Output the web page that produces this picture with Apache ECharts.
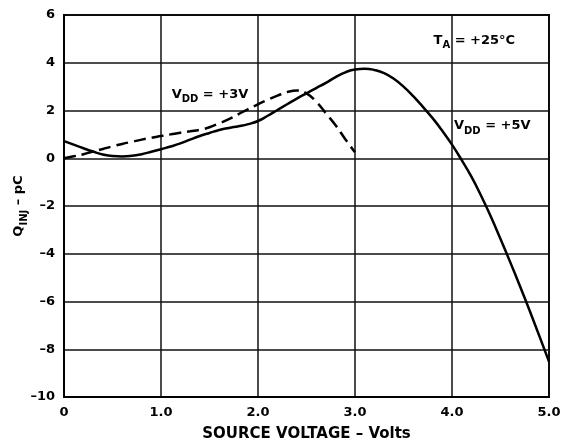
<!DOCTYPE html>
<html><head><meta charset="utf-8">
<script src="https://cdn.jsdelivr.net/npm/echarts@6/dist/echarts.min.js"></script>
<style>html,body{margin:0;padding:0;background:#fff}#c{width:568px;height:442px}</style>
</head><body><div id="c"></div>
<script>
// Source voltage (V), step 0.1, and charge injection (pC), VDD = +5V (solid)
const srcV5 = [0,0.1,0.2,0.3,0.4,0.5,0.6,0.7,0.8,0.9,1.0,1.1,1.2,1.3,1.4,1.5,1.6,1.7,1.8,1.9,2.0,2.1,2.2,2.3,2.4,2.5,2.6,2.7,2.8,2.9,3.0,3.1,3.2,3.3,3.4,3.5,3.6,3.7,3.8,3.9,4.0,4.1,4.2,4.3,4.4,4.5,4.6,4.7,4.8,4.9,5.0];
const qinj5  = [0.72,0.57,0.42,0.28,0.16,0.09,0.07,0.1,0.17,0.27,0.38,0.49,0.62,0.78,0.93,1.06,1.18,1.27,1.34,1.43,1.56,1.78,2.02,2.26,2.5,2.72,2.94,3.16,3.4,3.6,3.72,3.75,3.7,3.57,3.33,3.0,2.6,2.15,1.68,1.15,0.57,-0.08,-0.77,-1.57,-2.44,-3.38,-4.35,-5.35,-6.38,-7.44,-8.52];
// VDD = +3V (dashed)
const srcV3 = [0,0.1,0.2,0.3,0.4,0.5,0.6,0.7,0.8,0.9,1.0,1.1,1.2,1.3,1.4,1.5,1.6,1.7,1.8,1.9,2.0,2.1,2.2,2.3,2.4,2.5,2.6,2.7,2.8,2.9,3.0];
const qinj3  = [0,0.08,0.17,0.28,0.39,0.5,0.6,0.69,0.78,0.86,0.93,1.0,1.07,1.13,1.19,1.3,1.46,1.64,1.85,2.06,2.26,2.45,2.62,2.77,2.84,2.72,2.37,1.88,1.38,0.8,0.25];
const xTicks = [0, 1, 2, 3, 4, 5];
const yTicks = [-10, -8, -6, -4, -2, 0, 2, 4, 6];

const FONT = 'DejaVu Sans';
const zip = (a, b) => a.map((v, i) => [v, b[i]]);
const chart = echarts.init(document.getElementById('c'), null, {renderer: 'canvas'});
const axisTxt = {color: '#000', fontFamily: FONT, fontWeight: 'bold', fontSize: 13};
chart.setOption({
  animation: false,
  backgroundColor: '#fff',
  grid: {left: 64, right: 19, top: 15, bottom: 45, show: true, borderColor: '#000', borderWidth: 2,
         containLabel: false, outerBoundsMode: 'none'},
  xAxis: {
    type: 'value', min: xTicks[0], max: xTicks[xTicks.length - 1], interval: 1,
    axisLine: {show: true, onZero: false, lineStyle: {color: '#000', width: 2}},
    axisTick: {show: false},
    splitLine: {show: true, lineStyle: {color: '#111', width: 1.5}},
    axisLabel: Object.assign({}, axisTxt, {margin: 9, formatter: v => v === 0 ? '0' : v.toFixed(1)}),
    name: 'SOURCE VOLTAGE – Volts', nameLocation: 'middle', nameGap: 30, nameMoveOverlap: false,
    nameTextStyle: {color: '#000', fontFamily: FONT, fontWeight: 'bold', fontSize: 15}
  },
  yAxis: {
    type: 'value', min: yTicks[0], max: yTicks[yTicks.length - 1], interval: 2,
    axisLine: {show: true, onZero: false, lineStyle: {color: '#000', width: 2}},
    axisTick: {show: false},
    splitLine: {show: true, lineStyle: {color: '#111', width: 1.5}},
    axisLabel: Object.assign({}, axisTxt, {margin: 9, formatter: v => v < 0 ? '–' + Math.abs(v) : String(v)}),
    name: '{m|Q}{s|INJ}{m| – pC}', nameLocation: 'middle', nameGap: 35, nameRotate: 90, nameMoveOverlap: false,
    nameTextStyle: {rich: {
      m: {color: '#000', fontFamily: FONT, fontWeight: 'bold', fontSize: 13, lineHeight: 20},
      s: {color: '#000', fontFamily: FONT, fontWeight: 'bold', fontSize: 10, verticalAlign: 'bottom', lineHeight: 10}
    }}
  },
  series: [
    {type: 'line', data: zip(srcV5, qinj5), smooth: 0.5, symbol: 'none',
     lineStyle: {color: '#000', width: 2.5}},
    {type: 'line', data: zip(srcV3, qinj3), smooth: 0.5, symbol: 'none',
     lineStyle: {color: '#000', width: 2.5, type: [12, 6]}}
  ]
});

const notes = [
  {x: 3.81, y: 4.94, main: 'T', s: 'A', rest: ' = +25°C'},
  {x: 1.11, y: 2.68, main: 'V', s: 'DD', rest: ' = +3V'},
  {x: 4.02, y: 1.35, main: 'V', s: 'DD', rest: ' = +5V'}
];
chart.setOption({
  graphic: notes.map(n => {
    const p = chart.convertToPixel({gridIndex: 0}, [n.x, n.y]);
    return {
      type: 'text', x: p[0], y: p[1], silent: true,
      style: {
        text: '{m|' + n.main + '}{s|' + n.s + '}{m|' + n.rest + '}',
        verticalAlign: 'middle', align: 'left',
        rich: {
          m: {fill: '#000', fontFamily: FONT, fontWeight: 'bold', fontSize: 13, lineHeight: 20},
          s: {fill: '#000', fontFamily: FONT, fontWeight: 'bold', fontSize: 10, verticalAlign: 'bottom', lineHeight: 10}
        }
      }
    };
  })
});
</script></body></html>
